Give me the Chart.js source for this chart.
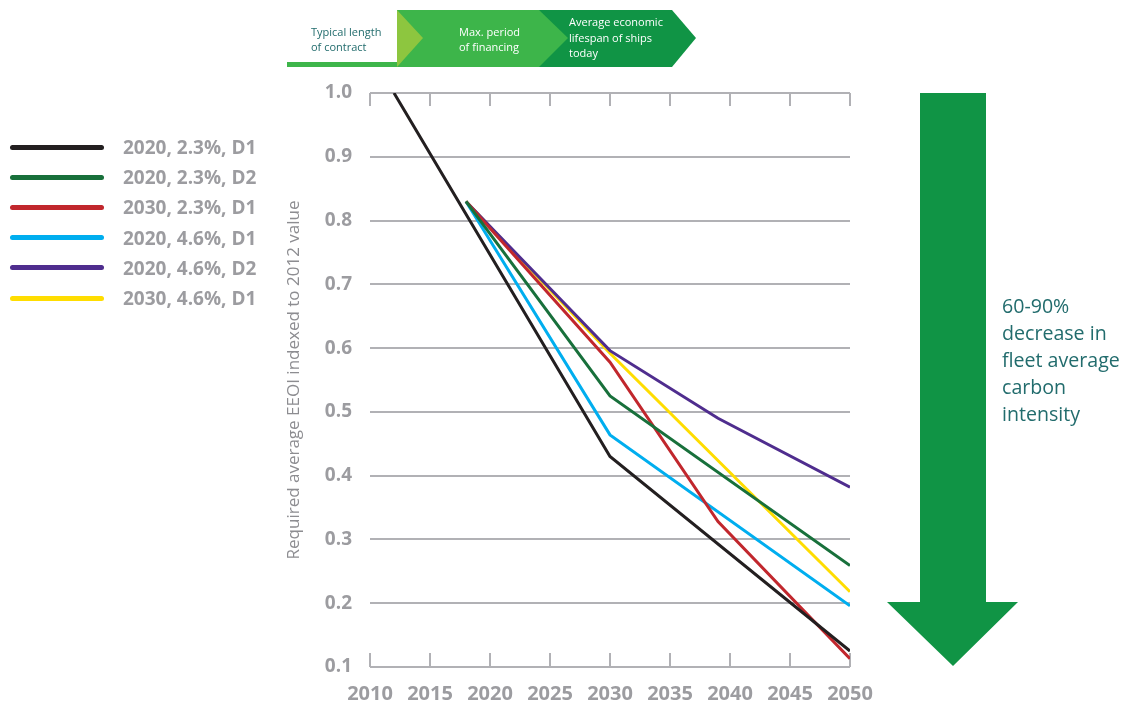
<!DOCTYPE html>
<html>
<head>
<meta charset="utf-8">
<script src="https://cdn.jsdelivr.net/npm/chart.js@4.4.1/dist/chart.umd.min.js"></script>
<style>
  html, body { margin: 0; padding: 0; background: #ffffff; }
  #wrap { position: relative; width: 1123px; height: 704px; overflow: hidden; font-family: "Open Sans", sans-serif; }
  #c { position: absolute; left: 0; top: 0; }
  .abs { position: absolute; white-space: nowrap; }
  .legline { position: absolute; left: 10px; width: 94px; height: 5px; border-radius: 3px; }
  .legtext { position: absolute; left: 123px; font-weight: 700; font-size: 19px; color: #9c9ca0; line-height: 24px; }
  .ban { position: absolute; font-size: 11px; line-height: 15px; }
</style>
</head>
<body>
<div id="wrap">
  <canvas id="c" width="1123" height="704"></canvas>
  <svg class="abs" style="left:0;top:0" width="1123" height="704">
    <!-- banner -->
    <rect x="287" y="62" width="112" height="5" fill="#3db54a"/>
    <polygon points="539,10 672,10 696,38 672,67 539,67" fill="#109445"/>
    <polygon points="397,10 539,10 568,38 539,67 397,67" fill="#3db54a"/>
    <polygon points="397,10 423,38 397,67" fill="#8dc63f"/>
    <!-- big arrow -->
    <polygon points="920,93 986,93 986,602 1018,602 953,666 887,602 920,602" fill="#109445"/>
  </svg>
  <div class="ban" style="left:311px;top:24px;color:#226c6d">Typical length<br>of contract</div>
  <div class="ban" style="left:459px;top:24px;color:#ffffff">Max. period<br>of financing</div>
  <div class="ban" style="left:569px;top:14px;color:#ffffff;line-height:15.5px">Average economic<br>lifespan of ships<br>today</div>
  <div class="abs" style="left:1002px;top:292px;font-size:19.6px;line-height:27px;color:#226c6d">60-90%<br>decrease in<br>fleet average<br>carbon<br>intensity</div>
  <div id="legend"></div>
</div>
<script>
// ---- data ----
const seriesNames = ['2020, 2.3%, D1', '2020, 2.3%, D2', '2030, 2.3%, D1', '2020, 4.6%, D1', '2020, 4.6%, D2', '2030, 4.6%, D1'];
const seriesColors = ['#231f20', '#18703b', '#c1272d', '#00aeef', '#4f2d8e', '#ffdd00'];

const years1 = [2012, 2030, 2050];
const vals1  = [1.0, 0.43, 0.125];
const years2 = [2018, 2030, 2050];
const vals2  = [0.83, 0.525, 0.259];
const years3 = [2018, 2030, 2039, 2050];
const vals3  = [0.83, 0.578, 0.328, 0.113];
const years4 = [2018, 2030, 2050];
const vals4  = [0.83, 0.464, 0.196];
const years5 = [2018, 2030, 2039, 2050];
const vals5  = [0.83, 0.596, 0.49, 0.382];
const years6 = [2018, 2030, 2050];
const vals6  = [0.83, 0.592, 0.218];

const xTicks = [2010, 2015, 2020, 2025, 2030, 2035, 2040, 2045, 2050];
const yTickLabels = ['0.1', '0.2', '0.3', '0.4', '0.5', '0.6', '0.7', '0.8', '0.9', '1.0'];
const yTitle = 'Required average EEOI indexed to 2012 value';

const allYears = [years1, years2, years3, years4, years5, years6];
const allVals = [vals1, vals2, vals3, vals4, vals5, vals6];

// legend (HTML)
const leg = document.getElementById('legend');
seriesNames.forEach((n, i) => {
  const cy = 147 + i * 30.2;
  const l = document.createElement('div');
  l.className = 'legline';
  l.style.top = (cy - 2.5) + 'px';
  l.style.background = seriesColors[i];
  leg.appendChild(l);
  const t = document.createElement('div');
  t.className = 'legtext';
  t.style.top = (cy - 12) + 'px';
  t.textContent = n;
  leg.appendChild(t);
});

const datasets = allYears.map((ys, i) => ({
  label: seriesNames[i],
  data: ys.map((y, k) => ({ x: y, y: allVals[i][k] })),
  borderColor: seriesColors[i],
  backgroundColor: seriesColors[i],
  borderWidth: 3,
  pointRadius: 0,
  tension: 0,
  fill: false,
  order: i === 0 ? 0 : 1
}));

const gridGray = '#b1b1b5';
const tickMarks = {
  id: 'tickMarks',
  beforeDatasetsDraw(chart) {
    const { ctx, chartArea, scales } = chart;
    ctx.save();
    ctx.strokeStyle = gridGray;
    ctx.lineWidth = 2;
    xTicks.forEach(v => {
      const px = Math.round(scales.x.getPixelForValue(v));
      ctx.beginPath();
      ctx.moveTo(px, chartArea.top);
      ctx.lineTo(px, chartArea.top + 13);
      ctx.moveTo(px, chartArea.bottom);
      ctx.lineTo(px, chartArea.bottom - 14);
      ctx.stroke();
    });
    ctx.restore();
  }
};

new Chart(document.getElementById('c'), {
  type: 'line',
  data: { datasets },
  options: {
    responsive: false,
    animation: false,
    layout: { padding: { left: 280, right: 273, top: 93, bottom: 0 } },
    plugins: { legend: { display: false }, tooltip: { enabled: false } },
    scales: {
      x: {
        type: 'linear',
        min: 2010, max: 2050,
        afterBuildTicks: (s) => { s.ticks = xTicks.map(v => ({ value: v })); },
        afterFit: (s) => { s.height = 37; },
        grid: { display: false },
        border: { display: false },
        ticks: {
          padding: 7,
          color: '#9c9ca0',
          font: { family: 'Open Sans', size: 20, weight: 'bold' },
          callback: (v) => String(v),
          maxRotation: 0,
          autoSkip: false
        }
      },
      y: {
        min: 0.1, max: 1.0,
        afterBuildTicks: (s) => { s.ticks = yTickLabels.map(t => ({ value: parseFloat(t) })); },
        afterFit: (s) => { s.width = 90; },
        grid: { color: gridGray, lineWidth: 2, drawTicks: false },
        border: { display: false },
        ticks: {
          padding: 18,
          color: '#9c9ca0',
          font: { family: 'Open Sans', size: 19, weight: 'bold' },
          callback: (v) => { const i = yTickLabels.findIndex(t => Math.abs(parseFloat(t) - v) < 1e-6); return i >= 0 ? yTickLabels[i] : ''; }
        },
        title: {
          display: true,
          text: yTitle,
          color: '#8d8d91',
          font: { family: 'Open Sans', size: 17 },
          padding: { top: 4, bottom: 0 }
        }
      }
    }
  },
  plugins: [tickMarks]
});
</script>
</body>
</html>
